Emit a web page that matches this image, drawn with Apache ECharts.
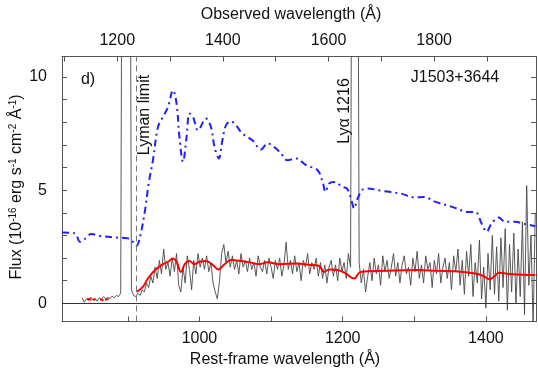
<!DOCTYPE html>
<html>
<head>
<meta charset="utf-8">
<script src="https://cdn.jsdelivr.net/npm/echarts@6/dist/echarts.min.js"></script>
<style>
  html, body { margin: 0; padding: 0; background: #fff; }
  #chart { width: 538px; height: 384px; }
</style>
</head>
<body>
<div id="chart"></div>
<script>
// redshift of J1503+3644, used for the observed-frame axis on top
const z = 0.3557;

const restRange = [808, 1470];
const fluxRange = [-0.8, 10.9];
const restTicks = [900, 1000, 1100, 1200, 1300, 1400];
const restLabels = [1000, 1200, 1400];
const obsTicks = [1100, 1200, 1300, 1400, 1500, 1600, 1700, 1800, 1900];
const obsLabels = [1200, 1400, 1600, 1800];
const fluxTicks = [0, 1, 2, 3, 4, 5, 6, 7, 8, 9, 10];
const fluxLabels = [0, 5, 10];
const lymanLimit = 912;

// observed spectrum, rest wavelength grid starting at 836 A in 3 A steps
const specStart = 836;
const specStep = 3;
const specFlux = [
  0.25, 0.05, 0.2, 0.12, 0.28, 0.15, 0.22, 0.1, 0.25, 0.18,
  0.3, 0.2, 0.26, 0.22, 0.32, 0.25, 0.35, 0.3, 0.45, 30,
  30, 30, 30, 0.6, 0.35, 0.3, 0.45, 0.35, 0.6, 0.5,
  0.9, 0.7, 1.2, 0.9, 1.6, 1.1, 1.9, 1.3, 2.4, 1.5,
  1.8, 1.2, 2.0, 1.4, 2.2, 0.8, 0.5, 1.6, 0.9, 2.1,
  1.5, 0.6, 1.9, 1.3, 2.2, 1.6, 2.0, 1.5, 2.1, 1.4,
  1.8, 0.9, 0.5, 0.2, 1.0, 2.2, 2.6, 1.8, 2.3, 1.6,
  2.1, 1.5, 1.9, 1.3, 2.2, 1.6, 1.9, 1.4, 2.0, 1.5,
  1.8, 1.2, 2.1, 1.6, 1.4, 1.9, 1.3, 2.0, 1.6, 1.1,
  1.9, 1.5, 2.0, 1.2, 1.7, 2.7, 1.5, 1.9, 1.3, 2.1,
  1.4, 1.8, 1.0, 1.9, 1.6, 2.2, 1.3, 1.8, 1.5, 2.0,
  1.2, 1.8, 1.1, 1.7, 0.9, 1.6, 1.9, 1.2, 1.7, 1.0,
  2.0, 1.4, 1.8, 1.1, 2.2, 1.6, 30, 30, 30, 1.8,
  0.9, 1.5, 0.5, 1.2, 1.8, 1.0, 2.0, 1.3, 1.7, 0.8,
  2.1, 1.4, 1.9, 1.1, 1.6, 2.2, 1.2, 1.8, 0.9, 1.7,
  2.1, 1.3, 1.6, 0.8, 2.0, 1.4, 2.3, 1.1, 1.7, 0.9,
  2.1, 1.5, 1.8, 0.7, 1.9, 1.3, 2.2, 0.9, 1.6, 2.0,
  1.1, 1.8, 0.6, 2.1, 1.4, 2.4, 0.8, 1.9, 0.4, 2.3,
  1.2, 2.6, 0.3, 1.8, 0.9, 2.8, 0.2, 1.6, -0.2, 2.2,
  0.6, 3.0, 0.4, 2.5, 0.1, 2.9, 0.7, 3.3, -0.3, 2.6,
  0.5, 3.1, 0.0, 2.4, 0.3, 3.6, -0.5, 5.2, 0.8, 3.0,
  -1.0, 4.0
];

// smoothed model (red)
const modelWave = [912, 921, 928, 938, 947, 956, 963, 968, 974, 980, 986, 993, 1000, 1009, 1019, 1026, 1035, 1044, 1056, 1070, 1084, 1095, 1112, 1135, 1153, 1167, 1174, 1181, 1193, 1204, 1216, 1225, 1258, 1304, 1332, 1357, 1385, 1397, 1405, 1412, 1418, 1436, 1469];
const modelFlux = [0.51, 0.73, 1.1, 1.47, 1.69, 1.84, 1.98, 1.84, 1.39, 1.76, 1.87, 1.73, 1.84, 1.87, 1.69, 1.5, 1.73, 1.91, 1.88, 1.81, 1.73, 1.82, 1.73, 1.76, 1.7, 1.65, 1.39, 1.5, 1.47, 1.32, 1.1, 1.39, 1.44, 1.47, 1.44, 1.42, 1.32, 1.2, 1.07, 1.2, 1.35, 1.29, 1.25];
// short red pieces below 880 A
const modelBlueWave = [843, 849, 851, 855, 861, 866, 868, 873];
const modelBlueFlux = [0.2, 0.16, 0.16, 0.18, 0.17, 0.15, 0.16, 0.2];

// comparison spectrum (blue dash-dot)
const compWave = [808, 826, 833, 838, 849, 863, 882, 900, 907, 912, 917, 924, 929, 935, 942, 949, 956, 963, 968, 972, 977, 982, 986, 991, 998, 1009, 1016, 1021, 1027, 1032, 1037, 1044, 1051, 1060, 1074, 1086, 1095, 1112, 1123, 1135, 1149, 1165, 1172, 1176, 1181, 1188, 1200, 1206, 1211, 1216, 1220, 1227, 1234, 1258, 1281, 1300, 1313, 1330, 1353, 1376, 1385, 1394, 1401, 1408, 1418, 1427, 1441, 1455, 1469];
const compFlux = [3.13, 3.09, 2.72, 2.79, 3.06, 2.97, 2.91, 2.87, 2.72, 2.54, 2.94, 4.12, 5.29, 6.32, 7.79, 8.23, 8.67, 9.41, 8.82, 7.35, 6.25, 7.35, 8.38, 8.23, 7.64, 8.16, 7.79, 6.91, 6.4, 7.2, 7.86, 8.04, 7.86, 7.5, 7.2, 6.79, 7.06, 6.69, 6.32, 6.4, 6.1, 5.88, 5.36, 4.92, 5.29, 5.36, 5.14, 5.07, 4.7, 4.19, 4.56, 5.0, 5.07, 4.95, 4.85, 4.68, 4.7, 4.48, 4.26, 4.04, 4.04, 3.53, 3.16, 3.53, 3.79, 3.6, 3.6, 3.5, 3.41];

const font = "'Liberation Sans', Arial, sans-serif";
const frameColor = '#555';

const chart = echarts.init(document.getElementById('chart'), null, { renderer: 'canvas' });

const spectrum = specFlux.map((f, i) => [specStart + i * specStep, f]);
const model = modelWave.map((w, i) => [w, modelFlux[i]]);
const modelBlue = [];
modelBlueWave.forEach((w, i) => {
  modelBlue.push([w, modelBlueFlux[i]]);
  if (i % 2 === 1) modelBlue.push([w + 1, '-']);
});
const comp = compWave.map((w, i) => [w, compFlux[i]]);

const tickStyle = { inside: true, length: 5, lineStyle: { color: frameColor, width: 1 } };
const labelStyle = { color: '#111', fontSize: 16, fontFamily: font, formatter: v => String(v) };
const axisLine = { show: true, onZero: false, lineStyle: { color: frameColor, width: 1 } };

const option = {
  animation: false,
  grid: { left: 62, right: 2, top: 56.5, bottom: 62.5 },
  xAxis: [
    {
      type: 'value', position: 'bottom', min: restRange[0], max: restRange[1],
      axisLine: axisLine,
      axisTick: Object.assign({ customValues: restTicks }, tickStyle),
      axisLabel: Object.assign({ customValues: restLabels, margin: 9 }, labelStyle),
      splitLine: { show: false }
    },
    {
      type: 'value', position: 'top', min: restRange[0] * (1 + z), max: restRange[1] * (1 + z),
      axisLine: axisLine,
      axisTick: Object.assign({ customValues: obsTicks }, tickStyle),
      axisLabel: Object.assign({ customValues: obsLabels, margin: 8 }, labelStyle),
      splitLine: { show: false }
    }
  ],
  yAxis: [
    {
      type: 'value', position: 'left', min: fluxRange[0], max: fluxRange[1],
      axisLine: axisLine,
      axisTick: Object.assign({ show: true, customValues: fluxTicks }, tickStyle),
      axisLabel: Object.assign({ customValues: fluxLabels, margin: 15 }, labelStyle),
      splitLine: { show: false }
    },
    {
      type: 'value', position: 'right', min: fluxRange[0], max: fluxRange[1],
      axisLine: axisLine,
      axisTick: Object.assign({ show: true, customValues: fluxTicks }, tickStyle),
      axisLabel: { show: false },
      splitLine: { show: false }
    }
  ],
  series: [
    {
      name: 'spectrum', type: 'line', data: spectrum, symbol: 'none',
      lineStyle: { color: '#474747', width: 0.9 },
      markLine: {
        silent: true, symbol: 'none', label: { show: false },
        data: [
          { yAxis: 0, lineStyle: { color: '#333', width: 1, type: 'solid' } },
          { xAxis: lymanLimit, lineStyle: { color: '#777', width: 1, type: [6, 4] } }
        ]
      }
    },
    {
      name: 'comparison', type: 'line', data: comp, symbol: 'none', smooth: 0.35,
      lineStyle: { color: '#1f1fff', width: 2, type: [7, 4, 2, 4] }
    },
    {
      name: 'model', type: 'line', data: model, symbol: 'none', smooth: 0.4,
      lineStyle: { color: '#ff0000', width: 2 }
    },
    {
      name: 'model-low', type: 'line', data: modelBlue, symbol: 'none',
      lineStyle: { color: '#ff0000', width: 2 }
    }
  ],
  graphic: [
    { type: 'text', x: 291, y: 15, style: { text: 'Observed wavelength (Å)', font: '16px ' + font, fill: '#111', align: 'center', verticalAlign: 'middle' } },
    { type: 'text', x: 285, y: 360, style: { text: 'Rest-frame wavelength (Å)', font: '16px ' + font, fill: '#111', align: 'center', verticalAlign: 'middle' } },
    {
      type: 'text', x: 17, y: 187, rotation: Math.PI / 2,
      style: {
        text: 'Flux (10{sup|-16} erg s{sup|-1} cm{sup|-2} Å{sup|-1})',
        fontSize: 16, fontFamily: font, fill: '#111', align: 'center', verticalAlign: 'middle', lineHeight: 18,
        rich: { sup: { fontSize: 10, fontFamily: font, fill: '#111', verticalAlign: 'top', lineHeight: 10 } }
      }
    },
    { type: 'text', x: 88, y: 80, style: { text: 'd)', font: '16px ' + font, fill: '#111', align: 'center', verticalAlign: 'middle' } },
    { type: 'text', x: 455, y: 78, style: { text: 'J1503+3644', font: '16px ' + font, fill: '#111', align: 'center', verticalAlign: 'middle' } },
    { type: 'text', x: 145, y: 115, rotation: Math.PI / 2, style: { text: 'Lyman limit', font: '16px ' + font, fill: '#111', align: 'center', verticalAlign: 'middle' } },
    { type: 'text', x: 344.5, y: 111, rotation: Math.PI / 2, style: { text: 'Lyα 1216', font: '16px ' + font, fill: '#111', align: 'center', verticalAlign: 'middle' } }
  ]
};

chart.setOption(option);

window.addEventListener('resize', () => {
  chart.resize();
});
</script>
</body>
</html>
